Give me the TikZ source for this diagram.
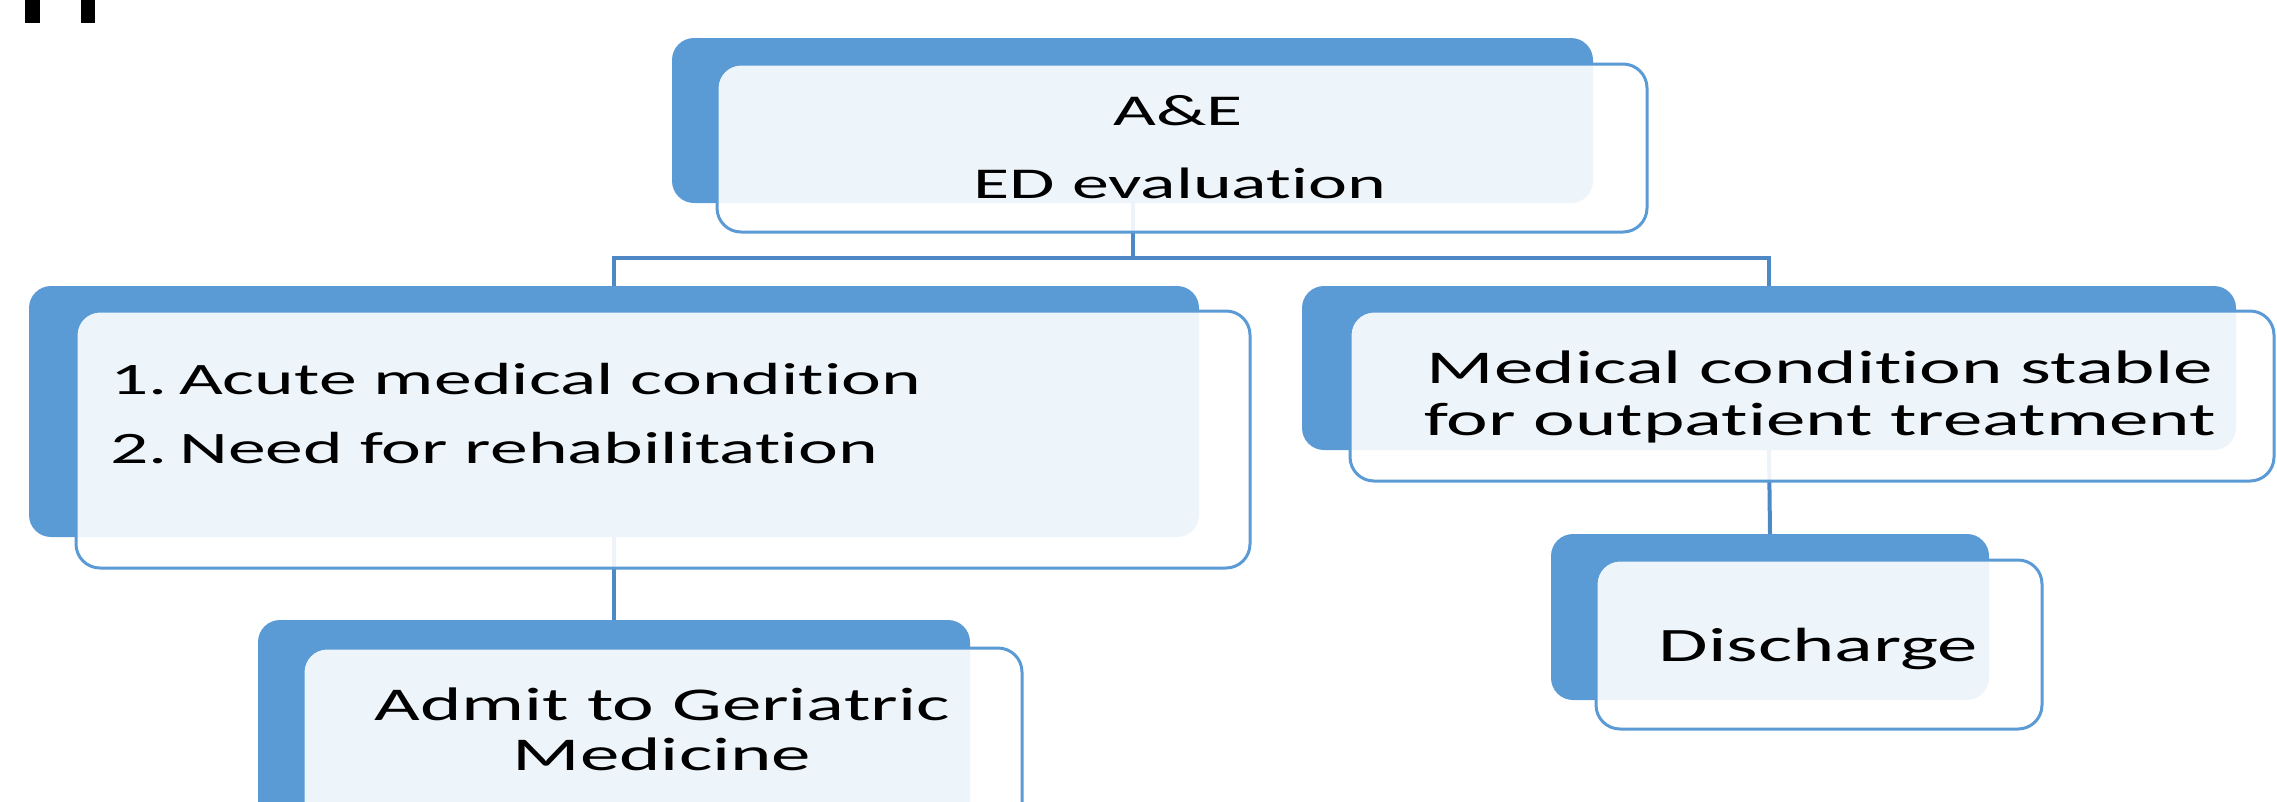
\documentclass[tikz,border=0pt]{standalone}
\usepackage{fontspec}
\setmainfont{Carlito}[FakeStretch=1.68,Ligatures={NoCommon}]
\newcommand{\nolig}{\kern0pt }
\definecolor{sablue}{HTML}{5B9BD5}
\definecolor{conblue}{HTML}{4F88C6}
\begin{document}
\begin{tikzpicture}[x=1pt,y=-1pt,
  backbox/.style={fill=sablue, draw=none, rounded corners=22pt, inner sep=0pt, outer sep=0pt},
  frontbox/.style={fill=white, fill opacity=0.9, draw=sablue, line width=3pt, rounded corners=24pt, inner sep=0pt, outer sep=0pt},
  conn/.style={draw=conblue, line width=4pt},
  txt/.style={inner sep=0pt, anchor=base, text=black}]
\useasboundingbox (0,0) rectangle (2277,801);
\clip (0,0) rectangle (2277,801);
% cropped marks top left
\fill[black] (25,0) rectangle (40,23);
\fill[black] (81,0) rectangle (95,23);
% back boxes
\node[backbox, minimum width=921pt, minimum height=165pt] (aeb) at (1132.5,120.5) {};
\node[backbox, minimum width=1170pt, minimum height=251pt] (lb) at (614,411.5) {};
\node[backbox, minimum width=934pt, minimum height=164pt] (rb) at (1769,368) {};
\node[backbox, minimum width=438pt, minimum height=166pt] (db) at (1770,617) {};
\node[backbox, minimum width=712pt, minimum height=240pt] (gb) at (614,740) {};
% connectors
\coordinate (hy) at (0,258);
\draw[conn] (aeb.south) -- (aeb.south |- hy) -| (lb.north);
\draw[conn] (aeb.south |- hy) -| (rb.north);
\draw[conn] (lb.south) -- (gb.north);
\draw[conn] (rb.south) -- (db.north);
% front boxes
\node[frontbox, minimum width=930pt, minimum height=168pt] (aef) at (1182,148) {};
\node[frontbox, minimum width=1174pt, minimum height=257pt] (lf) at (663,439.5) {};
\node[frontbox, minimum width=924pt, minimum height=170pt] (rf) at (1812,396) {};
\node[frontbox, minimum width=446pt, minimum height=169pt] (df) at (1819,644.5) {};
\node[frontbox, minimum width=719pt, minimum height=242pt] (gf) at (662.5,769) {};
% texts
\node[txt, font=\fontsize{44}{50}\selectfont] (t1) at (1178,125) {A\&E};
\node[txt, font=\fontsize{44}{50}\selectfont] (t2) at (1180,198) {ED evaluat\nolig ion};
\node[txt, anchor=base west, font=\fontsize{45}{50}\selectfont] (t3) at (110,394) {1.\hspace{-0.12em}~Acute medical condit\nolig ion};
\node[txt, anchor=base west, font=\fontsize{45}{50}\selectfont] (t4) at (110,463) {2.\hspace{-0.12em}~Need for rehabilitat\nolig ion};
\node[txt, font=\fontsize{47}{50}\selectfont] (t5) at (1820,383) {Medical condit\nolig ion stable};
\node[txt, font=\fontsize{47}{50}\selectfont] (t6) at (1820,435) {for outpat\nolig ient treatment};
\node[txt, font=\fontsize{47}{50}\selectfont] (t7) at (662,720) {Admit to Geriatric};
\node[txt, font=\fontsize{47}{50}\selectfont] (t8) at (662,770) {Medicine};
\node[txt, font=\fontsize{48}{50}\selectfont] (t9) at (1818,661) {Discharge};
\end{tikzpicture}
\end{document}
